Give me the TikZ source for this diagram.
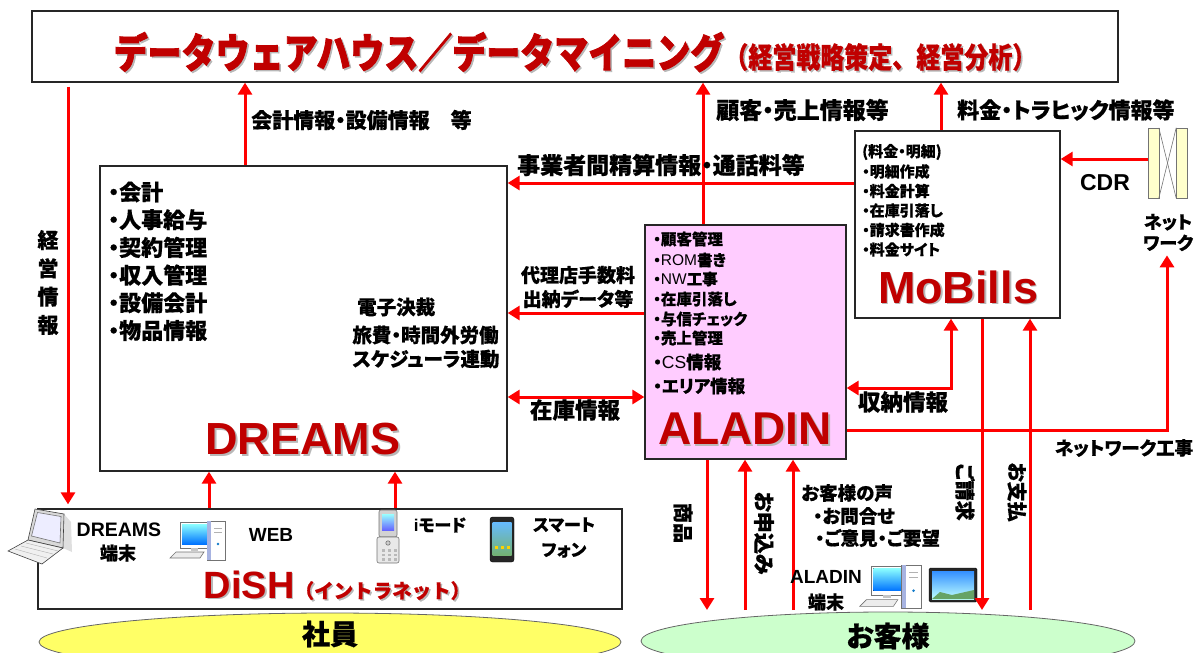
\documentclass[tikz,border=0pt]{standalone}
\usepackage{fontspec}
\setmainfont{Noto Sans CJK JP}[RawFeature=+palt, BoldFeatures={FakeBold=0.6}]
\newfontfamily\jpw{Noto Sans CJK JP}[BoldFeatures={FakeBold=0.6}]
\newfontfamily\jph{Noto Sans CJK JP}[BoldFeatures={FakeBold=2.2}]
\newfontfamily\lat{Liberation Sans}
\usetikzlibrary{arrows.meta,shapes.geometric}

\definecolor{linered}{HTML}{FF0000}
\definecolor{logored}{HTML}{C00000}
\definecolor{alapink}{HTML}{FFCCFF}
\definecolor{staffyellow}{HTML}{FFFF66}
\definecolor{custgreen}{HTML}{CCFFCC}
\definecolor{netyellow}{HTML}{FFFFCC}

\newcommand\fsz[2]{\fontsize{#1}{#2}\selectfont}
% red system name with a soft grey drop shadow
\newcommand\logotext[4]{%
  \node[logo, text=black!28, xshift=1.6pt, yshift=-1.6pt, #2] (#1s) at #3 {#4};
  \node[logo, #2] (#1) at #3 {#4};}

\tikzset{
  box/.style={draw=black!85, line width=1.3pt, inner sep=0pt},
  lbl/.style={inner sep=0pt, font=\bfseries},
  logo/.style={inner sep=0pt, text=logored, font=\lat\bfseries},
  flow/.style={draw=linered, line width=3pt, -{Triangle[length=12pt,width=14pt]}},
  both/.style={draw=linered, line width=3pt,
    {Triangle[length=12pt,width=14pt]}-{Triangle[length=12pt,width=14pt]}},
  icon/.style={draw=black!55, line width=0.6pt},
  desktop/.pic={
    \filldraw[icon, fill=white] (0,0) rectangle (30,26);
    \fill[top color=cyan!45, bottom color=blue!55!cyan] (2,2) rectangle (28,22);
    \fill[gray!45] (11,26) rectangle (18,29);
    \filldraw[icon, fill=gray!15] (-10,36) -- (-4,30) -- (24,30) -- (20,36) -- cycle;
    \filldraw[icon, fill=white] (27,-1) rectangle (45,38);
    \fill[cyan!35!blue!35] (27.3,-0.7) rectangle (31,37.7);
    \draw[gray!60, line width=0.8pt] (34,6) -- (42,6) (34,10) -- (42,10);
    \fill[cyan!60!blue] (38,22) circle (1.3);
  },
}

\begin{document}
\begin{tikzpicture}[x=1pt,y=-1pt]
\useasboundingbox (0,0) rectangle (1199,653);

% columns and rows used by the connectors
\coordinate (colMgmt)  at (68,0);
\coordinate (colWeb)   at (209,0);
\coordinate (colAcct)  at (245,0);
\coordinate (colImode) at (395,0);
\coordinate (colAla)   at (703,0);
\coordinate (colGoods) at (707,0);
\coordinate (colApply) at (745,0);
\coordinate (colVoice) at (793,0);
\coordinate (colBill)  at (941,0);
\coordinate (colRecv)  at (951,0);
\coordinate (colInv)   at (982,0);
\coordinate (colPay)   at (1030,0);
\coordinate (colNet)   at (1167,0);
\coordinate (rowCDR)    at (0,159);
\coordinate (rowSettle) at (0,183);
\coordinate (rowAgent)  at (0,313);
\coordinate (rowRecv)   at (0,388);
\coordinate (rowStock)  at (0,397);
\coordinate (rowNet)    at (0,430);
\coordinate (rowCust)   at (0,610);

% system frames
\node[box, minimum width=1086pt, minimum height=71pt] (dwh) at (575,46.5) {};
\node[box, minimum width=407pt, minimum height=305pt] (dreams) at (303.5,318.5) {};
\node[box, fill=alapink, minimum width=201pt, minimum height=234pt] (aladin) at (745.5,342) {};
\node[box, fill=white, minimum width=205pt, minimum height=187pt] (mobills) at (957.5,224.5) {};
\node[box, minimum width=584pt, minimum height=100pt] (dish) at (330,559) {};
\node[ellipse, draw=black!60, line width=0.8pt, fill=staffyellow, inner sep=0pt,
      minimum width=582pt, minimum height=58pt] (staff) at (330,642) {};
\node[ellipse, draw=black!60, line width=0.8pt, fill=custgreen, inner sep=0pt,
      minimum width=494pt, minimum height=58pt] (cust) at (888,641) {};

% network exchange
\node[inner sep=0pt, minimum width=39pt, minimum height=70pt] (netdev) at (1167.5,163) {};
\filldraw[icon, fill=netyellow] (netdev.north west) rectangle ([xshift=11pt]netdev.south west);
\filldraw[icon, fill=netyellow] ([xshift=-11pt]netdev.north east) rectangle (netdev.south east);
\draw[icon] ([xshift=11pt]netdev.north west) -- ([xshift=-11pt]netdev.south east);
\draw[icon] ([xshift=-11pt]netdev.north east) -- ([xshift=11pt]netdev.south west);

% laptop
\fill[gray!25] (64,514) -- (71,522) -- (72,552) -- (63,548) -- cycle;
\filldraw[icon, fill=gray!30, draw=black!75] (28,540) -- (35,509) -- (64,514) -- (63,548) -- cycle;
\filldraw[icon, fill=blue!7] (31.5,536) -- (37.5,512.5) -- (61,516.5) -- (60,543) -- cycle;
\filldraw[icon, fill=gray!12, draw=black!75] (28,540) -- (63,548) -- (42,564) -- (8,551) -- cycle;
\draw[gray!60, line width=0.4pt] (15,549) -- (47,558) (21,546) -- (53,554) (26,543) -- (58,551);

% desktop PCs
\pic at (180,522) {desktop};
\pic[scale=1.12] at (871,566) {desktop};
% flip phone
\filldraw[icon, fill=gray!35, rounded corners=2pt] (379,510) rectangle (397,537);
\fill[top color=cyan!40, bottom color=blue!60] (382,514) rectangle (394,530);
\filldraw[icon, fill=gray!18, rounded corners=2pt] (377,537) rectangle (399,563);
\filldraw[icon, fill=gray!40] (388,543) circle (2.2);
\foreach \r in {0,1,2} \foreach \c in {0,1,2}
  \fill[gray!55] (381.5+6*\c,549+4.5*\r) rectangle (384.5+6*\c,551.5+4.5*\r);
% smartphone
\filldraw[draw=black, fill=black!85, rounded corners=2.5pt] (490,517) rectangle (514,562);
\fill[top color=cyan!55!blue!60, bottom color=green!45!black!55] (492.5,522) rectangle (511.5,555);
\foreach \c in {0,1,2}
  \fill[yellow!70!orange] (495+6*\c,546) rectangle (498+6*\c,549);
% tablet
\filldraw[draw=black, fill=black!85, rounded corners=1.5pt] (929,568) rectangle (977,602);
\fill[top color=blue!55!cyan!80, bottom color=cyan!25] (932,571) rectangle (974,599);
\fill[green!40!black!60] (932,599) -- (940,592) -- (952,595) -- (974,590) -- (974,599) -- cycle;

% connectors
\draw[flow] (colAcct |- dreams.north) -- (colAcct |- dwh.south);
\draw[flow, shorten <=4pt, shorten >=4pt] (colMgmt |- dwh.south) -- (colMgmt |- dish.north);
\draw[flow] (colAla |- aladin.north) -- (colAla |- dwh.south);
\draw[flow] (colBill |- mobills.north) -- (colBill |- dwh.south);
\draw[flow] (mobills.west |- rowSettle) -- (dreams.east |- rowSettle);
\draw[flow] (aladin.west |- rowAgent) -- (dreams.east |- rowAgent);
\draw[both] (dreams.east |- rowStock) -- (aladin.west |- rowStock);
\draw[both] (colRecv |- mobills.south) -- (colRecv |- rowRecv) -- (aladin.east |- rowRecv);
\draw[flow] (netdev.west |- rowCDR) -- (mobills.east |- rowCDR);
\draw[flow] (colInv |- mobills.south) -- (colInv |- rowCust);
\draw[flow] (colPay |- rowCust) -- (colPay |- mobills.south);
\draw[flow] (colGoods |- aladin.south) -- (colGoods |- rowCust);
\draw[flow] (colApply |- rowCust) -- (colApply |- aladin.south);
\draw[flow] (colVoice |- rowCust) -- (colVoice |- aladin.south);
\draw[flow] (colWeb |- dish.north) -- (colWeb |- dreams.south);
\draw[flow] (colImode |- dish.north) -- (colImode |- dreams.south);
\node[lbl, font=\bfseries\fsz{18}{21}, align=center] (netlbl) at (1168,232.5) {ネット\\ワーク};
\draw[flow, shorten >=4pt] (aladin.east |- rowNet) -- (colNet |- rowNet) -- (colNet |- netlbl.south);

% headline
\logotext{title}{anchor=base, font=\jph\bfseries}{(575,68)}%
  {\scalebox{1}[1.2]{\fsz{34}{40}データウェアハウス／データマイニング{\jpw\bfseries\fsz{24}{28}（経営戦略策定、経営分析）}}}

% flow labels
\node[lbl, font=\bfseries\fsz{21}{21}, anchor=west] (acctlbl) at (251,120) {会計情報・設備情報　等};
\node[lbl, font=\bfseries\fsz{23}{23}, anchor=west] (salelbl) at (716,110) {顧客・売上情報等};
\node[lbl, font=\bfseries\fsz{22}{22}, anchor=west] (trafficlbl) at (957,110) {料金・トラヒック情報等};
\node[lbl, font=\bfseries\fsz{23}{23}, anchor=west] (settlelbl) at (517,165) {事業者間精算情報・通話料等};
\node[lbl, font=\bfseries\fsz{19}{24}, align=center] (agentlbl) at (578,287) {代理店手数料\\出納データ等};
\node[lbl, font=\bfseries\fsz{22.5}{22.5}] (stocklbl) at (575,410) {在庫情報};
\node[lbl, font=\bfseries\fsz{22.5}{22.5}] (recvlbl) at (903,402) {収納情報};
\node[lbl, font=\bfseries\fsz{18.5}{18.5}] (netwklbl) at (1124,448) {ネットワーク工事};
\node[lbl, font=\lat\bfseries\fsz{23}{23}] (cdrlbl) at (1105,183) {CDR};
\node[lbl, font=\bfseries\fsz{21}{28.3}, align=center] (mgmtlbl) at (48,282.5) {経\\営\\情\\報};
\node[lbl, font=\bfseries\fsz{20}{20}, rotate=-90] (goodslbl) at (683,523) {商品};
\node[lbl, font=\bfseries\fsz{21}{21}, rotate=-90] (applylbl) at (764,533) {お申込み};
\node[lbl, font=\bfseries\fsz{20}{20}, rotate=-90] (invlbl) at (965,492) {ご請求};
\node[lbl, font=\bfseries\fsz{20}{20}, rotate=-90] (paylbl) at (1017,492) {お支払};
\node[lbl, font=\bfseries\fsz{18.5}{18.5}, anchor=west] (voice1) at (801,493) {お客様の声};
\node[lbl, font=\bfseries\fsz{18.5}{18.5}, anchor=west] (voice2) at (813,516) {・お問合せ};
\node[lbl, font=\bfseries\fsz{18.5}{18.5}, anchor=west] (voice3) at (815,538) {・ご意見・ご要望};

% DREAMS contents
\foreach \t [count=\i] in {会計,人事給与,契約管理,収入管理,設備会計,物品情報}
  \node[lbl, font=\bfseries\fsz{22}{22}, anchor=west] (dl\i) at (108,164.3+27.7*\i) {・\t};
\node[lbl, font=\bfseries\fsz{19.5}{19.5}, anchor=west] (ewf) at (357,307) {電子決裁};
\node[lbl, font=\bfseries\fsz{19.5}{19.5}] (travel) at (425.5,335) {旅費・時間外労働};
\node[lbl, font=\bfseries\fsz{19.5}{19.5}] (sched) at (426,359) {スケジューラ連動};
\logotext{dreamslogo}{font=\lat\bfseries\fsz{45}{45}}{(303,439)}{DREAMS}

% ALADIN contents
\node[lbl, font=\bfseries\fsz{15.5}{15.5}, anchor=west] (al1) at (653,239) {・顧客管理};
\node[lbl, font=\bfseries\fsz{15.5}{15.5}, anchor=west] (al2) at (653,260) {・{\lat\mdseries ROM}書き};
\node[lbl, font=\bfseries\fsz{15.5}{15.5}, anchor=west] (al3) at (653,279) {・{\lat\mdseries NW}工事};
\node[lbl, font=\bfseries\fsz{15.5}{15.5}, anchor=west] (al4) at (653,299) {・在庫引落し};
\node[lbl, font=\bfseries\fsz{15.5}{15.5}, anchor=west] (al5) at (653,319) {・与信チェック};
\node[lbl, font=\bfseries\fsz{15.5}{15.5}, anchor=west] (al6) at (653,338) {・売上管理};
\node[lbl, font=\bfseries\fsz{17.5}{17.5}, anchor=west] (al7) at (653,362) {・{\lat\mdseries CS}情報};
\node[lbl, font=\bfseries\fsz{17.5}{17.5}, anchor=west] (al8) at (653,386) {・エリア情報};
\logotext{aladinlogo}{font=\lat\bfseries\fsz{46}{46}}{(745,429)}{ALADIN}

% MoBills contents
\foreach \t [count=\i] in {(料金・明細),・明細作成,・料金計算,・在庫引落し,・請求書作成,・料金サイト}
  \node[lbl, font=\bfseries\fsz{15}{15}, anchor=west] (mb\i) at (862,132.5+19.5*\i) {\t};
\logotext{mobillslogo}{font=\lat\bfseries\fsz{45}{45}}{(958,287)}{MoBills}

% DiSH contents
\node[lbl, font=\lat\bfseries\fsz{19.5}{19.5}] (dreamsterm) at (119,530) {DREAMS};
\node[lbl, font=\bfseries\fsz{18}{18}] (dreamsterm2) at (118,553) {端末};
\node[lbl, font=\lat\bfseries\fsz{19}{19}] (weblbl) at (271,535) {WEB};
\node[lbl, font=\bfseries\fsz{17}{17}] (imodelbl) at (440,525) {{\lat i}モード};
\node[lbl, font=\bfseries\fsz{17}{25}, align=center] (smartlbl) at (564,537.5) {スマート\\フォン};
\logotext{dishlogo}{anchor=base, font=\lat\bfseries\fsz{38}{38}}{(337,598)}%
  {DiSH{\jpw\fsz{19.5}{19.5}（イントラネット）}}
\node[lbl, font=\lat\bfseries\fsz{19}{19}] (alaterm) at (826,577) {ALADIN};
\node[lbl, font=\bfseries\fsz{18}{18}] (alaterm2) at (826,602) {端末};

% user groups
\node[lbl, font=\bfseries\fsz{28}{28}] (stafflbl) at (330,634) {社員};
\node[lbl, font=\bfseries\fsz{28}{28}] (custlbl) at (888,636) {お客様};
\end{tikzpicture}
\end{document}
